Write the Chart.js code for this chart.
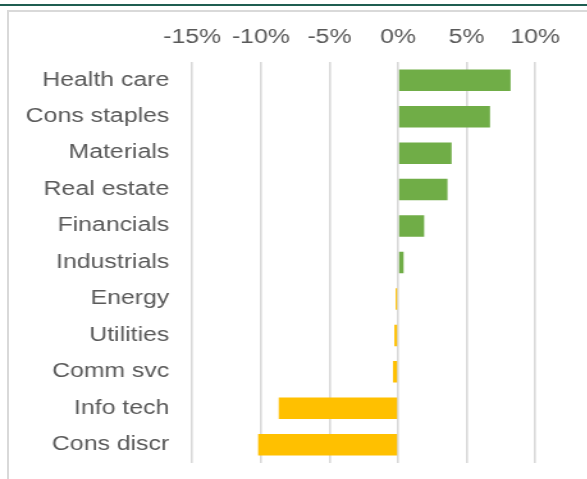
<!DOCTYPE html>
<html>
<head>
<meta charset="utf-8">
<script src="https://cdn.jsdelivr.net/npm/chart.js@4/dist/chart.umd.min.js"></script>
<style>
  html, body { margin: 0; padding: 0; background: #fff; overflow: hidden; }
  body { width: 587px; height: 479px; position: relative; }
  #topRule { position: absolute; left: 0; top: 4px; width: 587px; height: 2px; background: #1f5e51; }
  #frame { position: absolute; left: 7px; top: 10px; width: 700px; height: 600px; border: 2px solid #d9d9d9; }
  /* the source picture is stretched sideways, so the chart is too */
  #wrap { position: absolute; left: 0; top: 0; width: 459px; height: 479px; transform: scaleX(1.28); transform-origin: 0 0; }
</style>
</head>
<body>
<div id="topRule"></div>
<div id="frame"></div>
<div id="wrap"><canvas id="sectorChart"></canvas></div>
<script>
const sectors = ["Health care", "Cons staples", "Materials", "Real estate", "Financials",
  "Industrials", "Energy", "Utilities", "Comm svc", "Info tech", "Cons discr"];
const sectorReturns = [8.2, 6.7, 3.9, 3.6, 1.9, 0.4, -0.18, -0.27, -0.37, -8.7, -10.2];
const axisTicks = [-15, -10, -5, 0, 5, 10];

const gainColor = "#70ad47";
const lossColor = "#ffc000";
const textColor = "#595959";
const gridColor = "#d9d9d9";

Chart.defaults.font.family = "'Liberation Sans', Arial, sans-serif";

new Chart(document.getElementById("sectorChart"), {
  type: "bar",
  data: {
    labels: sectors,
    datasets: [{
      data: sectorReturns,
      backgroundColor: (ctx) => (ctx.raw < 0 ? lossColor : gainColor),
      borderWidth: 0,
      categoryPercentage: 1,
      barPercentage: 0.59
    }]
  },
  options: {
    indexAxis: "y",
    responsive: true,
    maintainAspectRatio: false,
    animation: false,
    layout: { padding: { left: 0, top: 0, right: 40.8, bottom: 16 } },
    plugins: { legend: { display: false }, tooltip: { enabled: false } },
    scales: {
      x: {
        position: "top",
        min: axisTicks[0],
        max: axisTicks[axisTicks.length - 1],
        afterBuildTicks: (s) => { s.ticks = axisTicks.map((v) => ({ value: v })); },
        afterFit: (s) => { s.height = 62; },
        grid: { color: gridColor, lineWidth: 1.6, drawTicks: false },
        border: { display: false },
        ticks: {
          color: textColor,
          font: { size: 19.4 },
          padding: 13,
          maxRotation: 0,
          callback: (v) => `${v}%`
        }
      },
      y: {
        afterFit: (s) => {
          s.width = 150.2;
          s.paddingTop = 0;
          s.paddingBottom = 0;
        },
        grid: { display: false, drawTicks: false },
        border: { display: false },
        ticks: { color: textColor, font: { size: 19.4 }, padding: 18 }
      }
    }
  }
});
</script>
</body>
</html>
